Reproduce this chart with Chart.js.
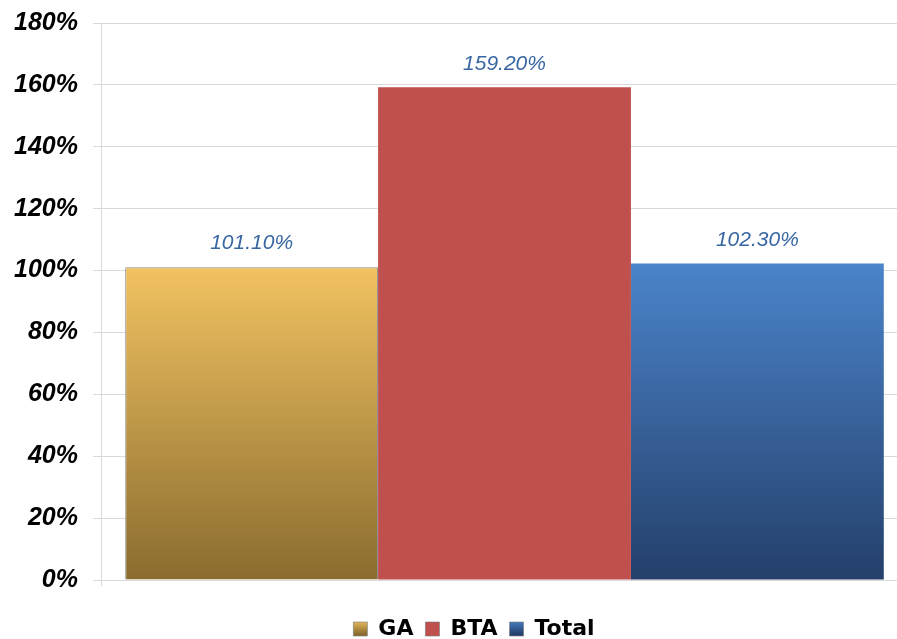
<!DOCTYPE html>
<html>
<head>
<meta charset="utf-8">
<script src="https://cdn.jsdelivr.net/npm/chart.js@4/dist/chart.umd.min.js"></script>
<style>
  body { margin: 0; overflow: hidden; background: #fff; }
  #wrap { position: absolute; left: 0; top: 0; width: 910px; height: 639px; }
</style>
</head>
<body>
<div id="wrap"><canvas id="chart" width="910" height="639"></canvas></div>
<script>
// values
const categories = [''];
const seriesNames = ['GA', 'BTA', 'Total'];
const seriesValues = [101.1, 159.2, 102.3];
const valueLabels = ['101.10%', '159.20%', '102.30%'];
const yTicks = [0, 20, 40, 60, 80, 100, 120, 140, 160, 180];

// top / bottom colour of each bar
const topColors = ['#f1c261', '#c0504d', '#4b84ca'];
const bottomColors = ['#8a6c2f', '#c0504d', '#243f6a'];

function barGradient(i) {
    return function(c) {
        const chart = c.chart;
        const area = chart.chartArea;
        const y = chart.scales.y;
        if (!area || !y) return topColors[i];
        const top = y.getPixelForValue(seriesValues[i]);
        const g = chart.ctx.createLinearGradient(0, top, 0, area.bottom);
        g.addColorStop(0, topColors[i]);
        g.addColorStop(1, bottomColors[i]);
        return g;
    };
}

// gradient for the little legend boxes
function legendGradient(ctx, i) {
    const g = ctx.createLinearGradient(0, 620, 0, 634);
    g.addColorStop(0, topColors[i]);
    g.addColorStop(1, bottomColors[i]);
    return g;
}

const valueLabelPlugin = {
    id: 'valueLabels',
    afterLayout(chart) {
        // the legend sits right of centre and low in the original
        chart.legend.left += 20;
        chart.legend.right += 20;
        chart.legend.top += 20;
        chart.legend.bottom += 20;
    },
    afterDatasetsDraw(chart) {
        const ctx = chart.ctx;
        ctx.save();
        ctx.font = 'italic 21px "Liberation Sans"';
        ctx.fillStyle = '#3866a3';
        ctx.textAlign = 'center';
        ctx.textBaseline = 'bottom';
        chart.data.datasets.forEach(function(ds, i) {
            const bar = chart.getDatasetMeta(i).data[0];
            ctx.fillText(valueLabels[i], bar.x, bar.y - 13);
        });
        ctx.restore();
    }
};

const ctx = document.getElementById('chart').getContext('2d');
new Chart(ctx, {
    type: 'bar',
    data: {
        labels: categories,
        datasets: seriesNames.map(function(name, i) {
            return {
                label: name,
                data: [seriesValues[i]],
                backgroundColor: barGradient(i),
                borderColor: i === 0 ? 'rgba(125,125,125,0.9)' : 'rgba(0,0,0,0)',
                borderWidth: i === 0 ? 1 : 0,
                barPercentage: 1,
                categoryPercentage: 0.94
            };
        })
    },
    options: {
        responsive: false,
        animation: false,
        layout: { padding: { top: 23, right: 2, bottom: 9 } },
        scales: {
            x: {
                ticks: { display: false },
                grid: { drawOnChartArea: false, color: '#d9d9d9', tickLength: 6 },
                border: { display: false }
            },
            y: {
                min: 0,
                max: 180,
                afterFit: function(axis) {
                    axis.width = 101;
                    axis.paddingTop = 0;
                    axis.paddingBottom = 0;
                },
                afterBuildTicks: function(axis) {
                    axis.ticks = yTicks.map(function(v) { return { value: v }; });
                },
                ticks: {
                    padding: 15,
                    color: '#000',
                    font: { family: '"Liberation Sans"', size: 25, style: 'italic', weight: 'bold' },
                    callback: function(v) { return v + '%'; }
                },
                grid: { color: '#d9d9d9', tickLength: 8 },
                border: { color: '#d9d9d9' }
            }
        },
        plugins: {
            legend: {
                position: 'bottom',
                labels: {
                    color: '#000',
                    boxWidth: 14,
                    boxHeight: 14,
                    padding: 12,
                    font: { family: '"DejaVu Sans"', size: 22, weight: 'bold' },
                    generateLabels: function(chart) {
                        return seriesNames.map(function(name, i) {
                            return {
                                text: name,
                                fillStyle: legendGradient(chart.ctx, i),
                                strokeStyle: 'rgba(120,120,120,0.6)',
                                lineWidth: 1,
                                datasetIndex: i
                            };
                        });
                    }
                }
            },
            tooltip: { enabled: false }
        }
    },
    plugins: [valueLabelPlugin]
});
</script>
</body>
</html>
